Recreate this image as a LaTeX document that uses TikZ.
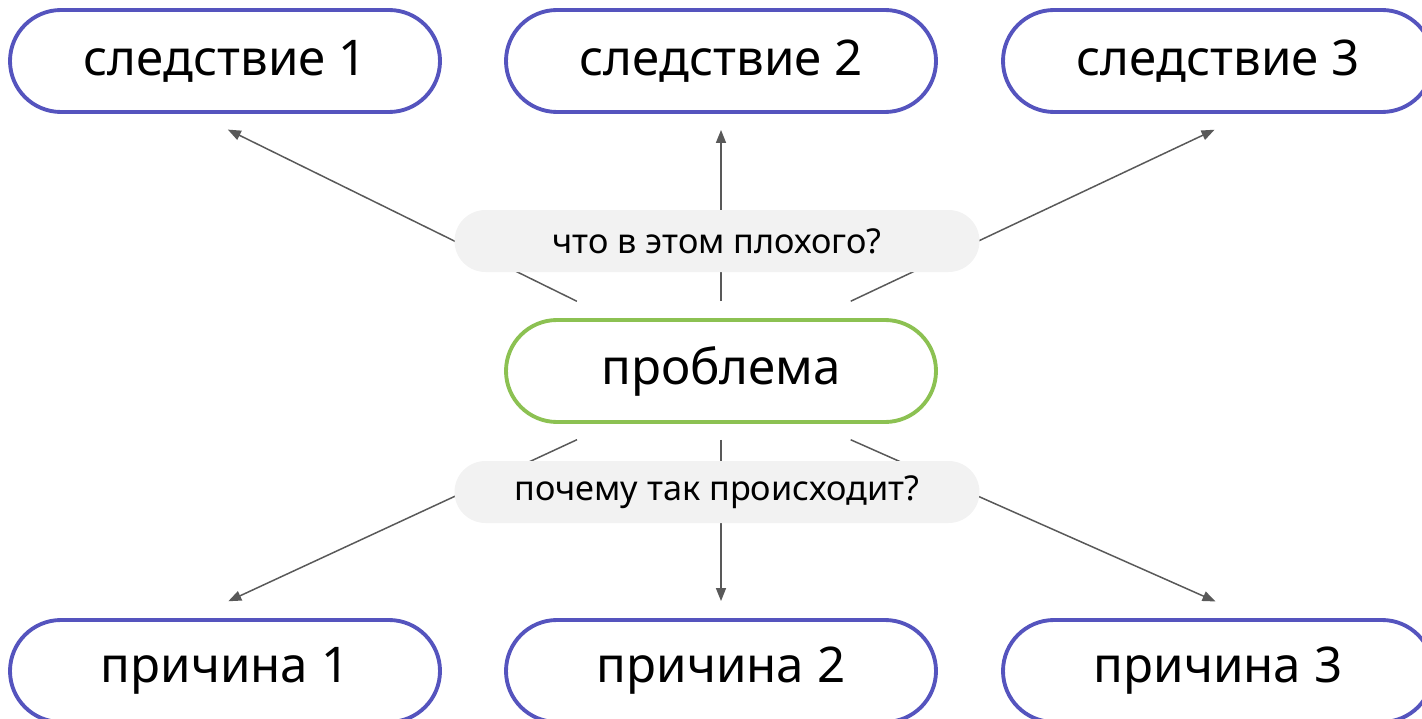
\documentclass[tikz,border=0pt]{standalone}
\usepackage{fontspec}
\setmainfont{Noto Sans}
\usetikzlibrary{arrows.meta}
\definecolor{boxblue}{HTML}{5554BE}
\definecolor{boxgreen}{HTML}{8CC152}
\definecolor{qgray}{HTML}{F2F2F2}
\definecolor{arrgray}{HTML}{595959}
\tikzset{
    pill/.style={draw=boxblue,line width=2.2pt,rounded corners=1.02cm,
        minimum width=8.6cm,minimum height=2.04cm,
        font=\fontsize{28}{32}\selectfont},
    question/.style={fill=qgray,rounded corners=0.62cm,
        minimum width=10.5cm,minimum height=1.24cm,
        font=\fontsize{19.5}{22}\selectfont},
    arr/.style={draw=arrgray,line width=0.85pt,-{Triangle[length=0.26cm,width=0.2cm]}}
}
\begin{document}
\begin{tikzpicture}
\useasboundingbox (0,0) rectangle (28.44,-14.38);

\node[pill] (sA) at (4.5,-1.22) {следствие 1};
\node[pill] (sB) at (14.42,-1.22) {следствие 2};
\node[pill] (sC) at (24.36,-1.22) {следствие 3};

\node[pill,draw=boxgreen] (prob) at (14.42,-7.42) {проблема};

\node[pill] (pA) at (4.5,-13.42) {причина 1};
\node[pill] (pB) at (14.42,-13.42) {причина 2};
\node[pill] (pC) at (24.36,-13.42) {причина 3};

% up: consequences
\foreach \t/\a/\b/\s/\e in
{sA/-2.2/-0.58/0.76/0.71,
    sB/0/0/0.34/0.32,
    sC/1.88/0.6/0.79/0.74}
{
    \draw[arr,shorten <=\s cm,shorten >=\e cm] ([xshift=\a cm]prob.north) -- ([xshift=\b cm]\t.south);
};
% down: causes
\foreach \t/\a/\b/\s/\e in
{pA/-2.2/-0.66/0.75/0.8,
    pB/0/0/0.32/0.34,
    pC/1.88/0.7/0.78/0.82}
{
    \draw[arr,shorten <=\s cm,shorten >=\e cm] ([xshift=\a cm]prob.south) -- ([xshift=\b cm]\t.north);
};

\node[question] (qUp) at (14.34,-4.82) {что в этом плохого?};
\node[question] (qDown) at (14.34,-9.84) {почему так происходит?};

\end{tikzpicture}
\end{document}
